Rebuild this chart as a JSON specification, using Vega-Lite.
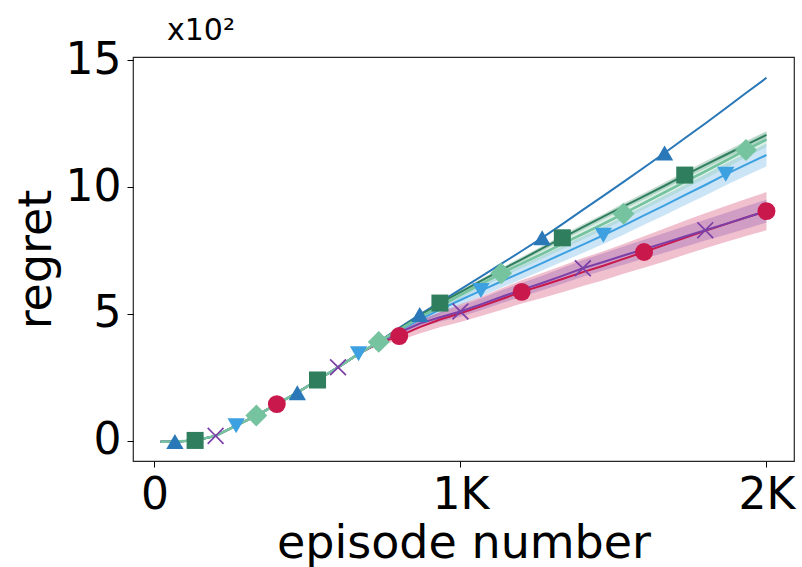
{
  "$schema": "https://vega.github.io/schema/vega-lite/v6.json",
  "width": 661,
  "height": 404,
  "autosize": "none",
  "padding": {"left": 133, "top": 57, "right": 8, "bottom": 106},
  "title": {"text": "x10²", "anchor": "start", "frame": "group", "dx": 34, "fontSize": 30, "font": "DejaVu Sans", "fontWeight": "normal", "color": "#000", "baseline": "alphabetic", "offset": -32},
  "datasets": {
    "lines": [
      {"s":"A","x":20,"y":-0.03,"lo":-0.03,"hi":-0.03},{"s":"A","x":67,"y":-0.02,"lo":-0.02,"hi":-0.02},{"s":"A","x":133,"y":0.02,"lo":0.02,"hi":0.02},{"s":"A","x":200,"y":0.2,"lo":0.2,"hi":0.2},{"s":"A","x":267,"y":0.6,"lo":0.6,"hi":0.6},{"s":"A","x":333,"y":1.0,"lo":1.0,"hi":1.0},{"s":"A","x":400,"y":1.45,"lo":1.45,"hi":1.45},{"s":"A","x":467,"y":1.9,"lo":1.9,"hi":1.9},{"s":"A","x":533,"y":2.4,"lo":2.4,"hi":2.4},{"s":"A","x":600,"y":2.9,"lo":2.9,"hi":2.9},{"s":"A","x":667,"y":3.43,"lo":3.43,"hi":3.43},{"s":"A","x":733,"y":3.9,"lo":3.9,"hi":3.9},
      {"s":"A","x":800,"y":4.45,"lo":4.43,"hi":4.47},{"s":"A","x":867,"y":4.98,"lo":4.96,"hi":5.0},{"s":"A","x":933,"y":5.47,"lo":5.45,"hi":5.49},{"s":"A","x":1000,"y":5.97,"lo":5.95,"hi":5.99},{"s":"A","x":1067,"y":6.47,"lo":6.45,"hi":6.49},{"s":"A","x":1133,"y":6.97,"lo":6.95,"hi":6.99},{"s":"A","x":1200,"y":7.48,"lo":7.46,"hi":7.5},{"s":"A","x":1267,"y":8.0,"lo":7.98,"hi":8.02},{"s":"A","x":1333,"y":8.54,"lo":8.51,"hi":8.57},{"s":"A","x":1400,"y":9.1,"lo":9.07,"hi":9.13},{"s":"A","x":1467,"y":9.65,"lo":9.62,"hi":9.68},{"s":"A","x":1533,"y":10.2,"lo":10.17,"hi":10.23},{"s":"A","x":1600,"y":10.77,"lo":10.73,"hi":10.81},{"s":"A","x":1667,"y":11.34,"lo":11.3,"hi":11.38},{"s":"A","x":1733,"y":11.92,"lo":11.88,"hi":11.96},{"s":"A","x":1800,"y":12.5,"lo":12.46,"hi":12.54},{"s":"A","x":1867,"y":13.1,"lo":13.06,"hi":13.14},{"s":"A","x":1933,"y":13.7,"lo":13.66,"hi":13.74},{"s":"A","x":2000,"y":14.3,"lo":14.26,"hi":14.34},

      {"s":"B","x":20,"y":-0.03,"lo":-0.03,"hi":-0.03},{"s":"B","x":67,"y":-0.02,"lo":-0.02,"hi":-0.02},{"s":"B","x":133,"y":0.02,"lo":0.02,"hi":0.02},{"s":"B","x":200,"y":0.2,"lo":0.2,"hi":0.2},{"s":"B","x":267,"y":0.6,"lo":0.6,"hi":0.6},{"s":"B","x":333,"y":1.0,"lo":1.0,"hi":1.0},{"s":"B","x":400,"y":1.45,"lo":1.45,"hi":1.45},{"s":"B","x":467,"y":1.9,"lo":1.9,"hi":1.9},{"s":"B","x":533,"y":2.4,"lo":2.4,"hi":2.4},{"s":"B","x":600,"y":2.9,"lo":2.9,"hi":2.9},{"s":"B","x":667,"y":3.43,"lo":3.43,"hi":3.43},{"s":"B","x":733,"y":3.9,"lo":3.9,"hi":3.9},
      {"s":"B","x":800,"y":4.42,"lo":4.39,"hi":4.45},{"s":"B","x":867,"y":4.93,"lo":4.88,"hi":4.98},{"s":"B","x":933,"y":5.43,"lo":5.37,"hi":5.49},{"s":"B","x":1000,"y":5.86,"lo":5.79,"hi":5.93},{"s":"B","x":1067,"y":6.3,"lo":6.22,"hi":6.38},{"s":"B","x":1133,"y":6.73,"lo":6.65,"hi":6.81},{"s":"B","x":1200,"y":7.15,"lo":7.06,"hi":7.24},{"s":"B","x":1267,"y":7.58,"lo":7.48,"hi":7.68},{"s":"B","x":1333,"y":8.0,"lo":7.9,"hi":8.1},{"s":"B","x":1400,"y":8.42,"lo":8.31,"hi":8.53},{"s":"B","x":1467,"y":8.83,"lo":8.72,"hi":8.94},{"s":"B","x":1533,"y":9.24,"lo":9.12,"hi":9.36},{"s":"B","x":1600,"y":9.64,"lo":9.52,"hi":9.76},{"s":"B","x":1667,"y":10.05,"lo":9.92,"hi":10.18},{"s":"B","x":1733,"y":10.47,"lo":10.34,"hi":10.6},{"s":"B","x":1800,"y":10.87,"lo":10.73,"hi":11.01},{"s":"B","x":1867,"y":11.27,"lo":11.13,"hi":11.41},{"s":"B","x":1933,"y":11.66,"lo":11.51,"hi":11.81},{"s":"B","x":2000,"y":12.05,"lo":11.9,"hi":12.2},

      {"s":"D","x":20,"y":-0.03,"lo":-0.03,"hi":-0.03},{"s":"D","x":67,"y":-0.02,"lo":-0.02,"hi":-0.02},{"s":"D","x":133,"y":0.02,"lo":0.02,"hi":0.02},{"s":"D","x":200,"y":0.2,"lo":0.2,"hi":0.2},{"s":"D","x":267,"y":0.6,"lo":0.6,"hi":0.6},{"s":"D","x":333,"y":1.0,"lo":1.0,"hi":1.0},{"s":"D","x":400,"y":1.45,"lo":1.45,"hi":1.45},{"s":"D","x":467,"y":1.9,"lo":1.9,"hi":1.9},{"s":"D","x":533,"y":2.4,"lo":2.4,"hi":2.4},{"s":"D","x":600,"y":2.9,"lo":2.9,"hi":2.9},{"s":"D","x":667,"y":3.43,"lo":3.43,"hi":3.43},{"s":"D","x":733,"y":3.9,"lo":3.9,"hi":3.9},
      {"s":"D","x":800,"y":4.35,"lo":4.25,"hi":4.45},{"s":"D","x":867,"y":4.78,"lo":4.63,"hi":4.93},{"s":"D","x":933,"y":5.17,"lo":4.99,"hi":5.35},{"s":"D","x":1000,"y":5.55,"lo":5.34,"hi":5.76},{"s":"D","x":1067,"y":5.92,"lo":5.69,"hi":6.15},{"s":"D","x":1133,"y":6.28,"lo":6.03,"hi":6.53},{"s":"D","x":1200,"y":6.64,"lo":6.37,"hi":6.91},{"s":"D","x":1267,"y":7.0,"lo":6.71,"hi":7.29},{"s":"D","x":1333,"y":7.37,"lo":7.06,"hi":7.68},{"s":"D","x":1400,"y":7.73,"lo":7.4,"hi":8.06},{"s":"D","x":1467,"y":8.1,"lo":7.76,"hi":8.44},{"s":"D","x":1533,"y":8.48,"lo":8.12,"hi":8.84},{"s":"D","x":1600,"y":8.88,"lo":8.51,"hi":9.25},{"s":"D","x":1667,"y":9.28,"lo":8.89,"hi":9.67},{"s":"D","x":1733,"y":9.68,"lo":9.28,"hi":10.08},{"s":"D","x":1800,"y":10.08,"lo":9.67,"hi":10.49},{"s":"D","x":1867,"y":10.5,"lo":10.07,"hi":10.93},{"s":"D","x":1933,"y":10.88,"lo":10.44,"hi":11.32},{"s":"D","x":2000,"y":11.26,"lo":10.81,"hi":11.71},

      {"s":"F","x":20,"y":-0.03,"lo":-0.03,"hi":-0.03},{"s":"F","x":67,"y":-0.02,"lo":-0.02,"hi":-0.02},{"s":"F","x":133,"y":0.02,"lo":0.02,"hi":0.02},{"s":"F","x":200,"y":0.2,"lo":0.2,"hi":0.2},{"s":"F","x":267,"y":0.6,"lo":0.6,"hi":0.6},{"s":"F","x":333,"y":1.0,"lo":1.0,"hi":1.0},{"s":"F","x":400,"y":1.45,"lo":1.45,"hi":1.45},{"s":"F","x":467,"y":1.9,"lo":1.9,"hi":1.9},{"s":"F","x":533,"y":2.4,"lo":2.4,"hi":2.4},{"s":"F","x":600,"y":2.9,"lo":2.9,"hi":2.9},{"s":"F","x":667,"y":3.43,"lo":3.43,"hi":3.43},{"s":"F","x":733,"y":3.84,"lo":3.78,"hi":3.9},
      {"s":"F","x":800,"y":4.13,"lo":3.96,"hi":4.3},{"s":"F","x":867,"y":4.48,"lo":4.23,"hi":4.73},{"s":"F","x":933,"y":4.78,"lo":4.48,"hi":5.08},{"s":"F","x":1000,"y":5.03,"lo":4.68,"hi":5.38},{"s":"F","x":1067,"y":5.3,"lo":4.92,"hi":5.68},{"s":"F","x":1133,"y":5.58,"lo":5.16,"hi":6.0},{"s":"F","x":1200,"y":5.87,"lo":5.41,"hi":6.33},{"s":"F","x":1267,"y":6.12,"lo":5.63,"hi":6.61},{"s":"F","x":1333,"y":6.38,"lo":5.86,"hi":6.9},{"s":"F","x":1400,"y":6.65,"lo":6.1,"hi":7.2},{"s":"F","x":1467,"y":6.9,"lo":6.33,"hi":7.47},{"s":"F","x":1533,"y":7.17,"lo":6.58,"hi":7.76},{"s":"F","x":1600,"y":7.44,"lo":6.82,"hi":8.06},{"s":"F","x":1667,"y":7.72,"lo":7.07,"hi":8.37},{"s":"F","x":1733,"y":8.0,"lo":7.33,"hi":8.67},{"s":"F","x":1800,"y":8.28,"lo":7.59,"hi":8.97},{"s":"F","x":1867,"y":8.54,"lo":7.83,"hi":9.25},{"s":"F","x":1933,"y":8.8,"lo":8.07,"hi":9.53},{"s":"F","x":2000,"y":9.05,"lo":8.3,"hi":9.8},

      {"s":"C","x":20,"y":-0.03,"lo":-0.03,"hi":-0.03},{"s":"C","x":67,"y":-0.02,"lo":-0.02,"hi":-0.02},{"s":"C","x":133,"y":0.02,"lo":0.02,"hi":0.02},{"s":"C","x":200,"y":0.2,"lo":0.2,"hi":0.2},{"s":"C","x":267,"y":0.6,"lo":0.6,"hi":0.6},{"s":"C","x":333,"y":1.0,"lo":1.0,"hi":1.0},{"s":"C","x":400,"y":1.45,"lo":1.45,"hi":1.45},{"s":"C","x":467,"y":1.9,"lo":1.9,"hi":1.9},{"s":"C","x":533,"y":2.4,"lo":2.4,"hi":2.4},{"s":"C","x":600,"y":2.9,"lo":2.9,"hi":2.9},{"s":"C","x":667,"y":3.43,"lo":3.43,"hi":3.43},{"s":"C","x":733,"y":3.87,"lo":3.83,"hi":3.91},
      {"s":"C","x":800,"y":4.27,"lo":4.17,"hi":4.37},{"s":"C","x":867,"y":4.62,"lo":4.47,"hi":4.77},{"s":"C","x":933,"y":4.87,"lo":4.69,"hi":5.05},{"s":"C","x":1000,"y":5.1,"lo":4.89,"hi":5.31},{"s":"C","x":1067,"y":5.38,"lo":5.15,"hi":5.61},{"s":"C","x":1133,"y":5.67,"lo":5.42,"hi":5.92},{"s":"C","x":1200,"y":5.95,"lo":5.68,"hi":6.22},{"s":"C","x":1267,"y":6.22,"lo":5.93,"hi":6.51},{"s":"C","x":1333,"y":6.5,"lo":6.19,"hi":6.81},{"s":"C","x":1400,"y":6.8,"lo":6.47,"hi":7.13},{"s":"C","x":1467,"y":7.05,"lo":6.71,"hi":7.39},{"s":"C","x":1533,"y":7.3,"lo":6.94,"hi":7.66},{"s":"C","x":1600,"y":7.55,"lo":7.18,"hi":7.92},{"s":"C","x":1667,"y":7.8,"lo":7.41,"hi":8.19},{"s":"C","x":1733,"y":8.05,"lo":7.65,"hi":8.45},{"s":"C","x":1800,"y":8.3,"lo":7.89,"hi":8.71},{"s":"C","x":1867,"y":8.55,"lo":8.12,"hi":8.98},{"s":"C","x":1933,"y":8.8,"lo":8.36,"hi":9.24},{"s":"C","x":2000,"y":9.05,"lo":8.6,"hi":9.5},

      {"s":"E","x":20,"y":-0.03,"lo":-0.03,"hi":-0.03},{"s":"E","x":67,"y":-0.02,"lo":-0.02,"hi":-0.02},{"s":"E","x":133,"y":0.02,"lo":0.02,"hi":0.02},{"s":"E","x":200,"y":0.2,"lo":0.2,"hi":0.2},{"s":"E","x":267,"y":0.6,"lo":0.6,"hi":0.6},{"s":"E","x":333,"y":1.0,"lo":1.0,"hi":1.0},{"s":"E","x":400,"y":1.45,"lo":1.45,"hi":1.45},{"s":"E","x":467,"y":1.9,"lo":1.9,"hi":1.9},{"s":"E","x":533,"y":2.4,"lo":2.4,"hi":2.4},{"s":"E","x":600,"y":2.9,"lo":2.9,"hi":2.9},{"s":"E","x":667,"y":3.43,"lo":3.43,"hi":3.43},{"s":"E","x":733,"y":3.9,"lo":3.9,"hi":3.9},
      {"s":"E","x":800,"y":4.38,"lo":4.31,"hi":4.45},{"s":"E","x":867,"y":4.87,"lo":4.77,"hi":4.97},{"s":"E","x":933,"y":5.3,"lo":5.18,"hi":5.42},{"s":"E","x":1000,"y":5.75,"lo":5.61,"hi":5.89},{"s":"E","x":1067,"y":6.18,"lo":6.03,"hi":6.33},{"s":"E","x":1133,"y":6.6,"lo":6.43,"hi":6.77},{"s":"E","x":1200,"y":6.98,"lo":6.8,"hi":7.16},{"s":"E","x":1267,"y":7.37,"lo":7.17,"hi":7.57},{"s":"E","x":1333,"y":7.76,"lo":7.55,"hi":7.97},{"s":"E","x":1400,"y":8.15,"lo":7.93,"hi":8.37},{"s":"E","x":1467,"y":8.55,"lo":8.32,"hi":8.78},{"s":"E","x":1533,"y":8.95,"lo":8.71,"hi":9.19},{"s":"E","x":1600,"y":9.37,"lo":9.12,"hi":9.62},{"s":"E","x":1667,"y":9.79,"lo":9.53,"hi":10.05},{"s":"E","x":1733,"y":10.2,"lo":9.93,"hi":10.47},{"s":"E","x":1800,"y":10.62,"lo":10.34,"hi":10.9},{"s":"E","x":1867,"y":11.04,"lo":10.75,"hi":11.33},{"s":"E","x":1933,"y":11.46,"lo":11.17,"hi":11.75},{"s":"E","x":2000,"y":11.87,"lo":11.57,"hi":12.17}
    ],
    "markers": [
      {"s":"A","x":67,"y":-0.02},{"s":"A","x":467,"y":1.9},{"s":"A","x":867,"y":4.98},{"s":"A","x":1267,"y":8.0},{"s":"A","x":1667,"y":11.34},
      {"s":"B","x":133,"y":0.02},{"s":"B","x":533,"y":2.4},{"s":"B","x":933,"y":5.43},{"s":"B","x":1333,"y":8.0},{"s":"B","x":1733,"y":10.47},
      {"s":"C","x":200,"y":0.2},{"s":"C","x":600,"y":2.9},{"s":"C","x":1000,"y":5.1},{"s":"C","x":1400,"y":6.8},{"s":"C","x":1800,"y":8.3},
      {"s":"D","x":267,"y":0.6},{"s":"D","x":667,"y":3.43},{"s":"D","x":1067,"y":5.92},{"s":"D","x":1467,"y":8.1},{"s":"D","x":1867,"y":10.5},
      {"s":"F","x":400,"y":1.45},{"s":"F","x":800,"y":4.13},{"s":"F","x":1200,"y":5.87},{"s":"F","x":1600,"y":7.44},{"s":"F","x":2000,"y":9.05},
      {"s":"E","x":333,"y":1.0},{"s":"E","x":733,"y":3.9},{"s":"E","x":1133,"y":6.6},{"s":"E","x":1533,"y":8.95},{"s":"E","x":1933,"y":11.46}
    ]
  },
  "layer": [
    {
      "data": {"name": "lines"},
      "mark": {"type": "area", "opacity": 0.27},
      "encoding": {
        "x": {"field": "x", "type": "quantitative", "scale": {"domain": [-70, 2090], "nice": false, "zero": false}, "title": "episode number", "axis": {"values": [0, 1000, 2000], "labelExpr": "datum.value == 0 ? '0' : (datum.value / 1000) + 'K'"}},
        "y": {"field": "lo", "type": "quantitative", "scale": {"domain": [-0.79, 15.12], "nice": false, "zero": false}, "title": "regret", "axis": {"values": [0, 5, 10, 15]}},
        "y2": {"field": "hi"},
        "color": {"field": "s", "type": "nominal", "scale": {"domain": ["A","B","C","D","E","F"], "range": ["#2a78b8","#2f7f5e","#7b3fa8","#3da0e0","#76c3a0","#c8184c"]}, "legend": null}
      }
    },
    {
      "data": {"name": "lines"},
      "mark": {"type": "line", "strokeWidth": 2},
      "encoding": {
        "x": {"field": "x", "type": "quantitative", "title": "episode number", "axis": {"values": [0, 1000, 2000], "labelExpr": "datum.value == 0 ? '0' : (datum.value / 1000) + 'K'"}},
        "y": {"field": "y", "type": "quantitative", "title": "regret", "axis": {"values": [0, 5, 10, 15]}},
        "color": {"field": "s", "type": "nominal", "legend": null},
        "order": {"field": "x", "type": "quantitative"}
      }
    },
    {
      "data": {"name": "lines"},
      "transform": [{"filter": "datum.s == 'E'"}],
      "mark": {"type": "line", "strokeWidth": 2.5},
      "encoding": {
        "x": {"field": "x", "type": "quantitative", "title": "episode number", "axis": {"values": [0, 1000, 2000], "labelExpr": "datum.value == 0 ? '0' : (datum.value / 1000) + 'K'"}},
        "y": {"field": "y", "type": "quantitative", "title": "regret", "axis": {"values": [0, 5, 10, 15]}},
        "color": {"field": "s", "type": "nominal", "legend": null},
        "order": {"field": "x", "type": "quantitative"}
      }
    },
    {
      "data": {"name": "markers"},
      "mark": {"type": "point", "filled": true, "opacity": 1},
      "encoding": {
        "x": {"field": "x", "type": "quantitative", "title": "episode number", "axis": {"values": [0, 1000, 2000], "labelExpr": "datum.value == 0 ? '0' : (datum.value / 1000) + 'K'"}},
        "y": {"field": "y", "type": "quantitative", "title": "regret", "axis": {"values": [0, 5, 10, 15]}},
        "color": {"field": "s", "type": "nominal", "legend": null},
        "shape": {"field": "s", "type": "nominal", "scale": {"domain": ["A","B","C","D","E","F"], "range": ["triangle-up","square","M-1,-0.86L-0.86,-1L0,-0.14L0.86,-1L1,-0.86L0.14,0L1,0.86L0.86,1L0,0.14L-0.86,1L-1,0.86L-0.14,0Z","triangle-down","M0,-1L1,0L0,1L-1,0Z","circle"]}, "legend": null},
        "size": {"field": "s", "type": "nominal", "scale": {"type": "ordinal", "domain": ["A","B","C","D","E","F"], "range": [300, 290, 290, 300, 480, 320]}, "legend": null}
      }
    }
  ],
  "config": {
    "font": "DejaVu Sans",
    "view": {"stroke": "#262626", "strokeWidth": 1.2},
    "axis": {"domain": false, "grid": false, "labelFont": "DejaVu Sans", "labelFontSize": 44, "labelColor": "#000", "titleFont": "DejaVu Sans", "titleFontSize": 46, "titleFontWeight": "normal", "titleColor": "#000", "tickColor": "#000", "tickSize": 6, "tickWidth": 1, "labelPadding": 6, "labelOverlap": false},
    "axisX": {"titlePadding": 4, "labelFlush": false},
    "axisY": {"titlePadding": 5}
  }
}
